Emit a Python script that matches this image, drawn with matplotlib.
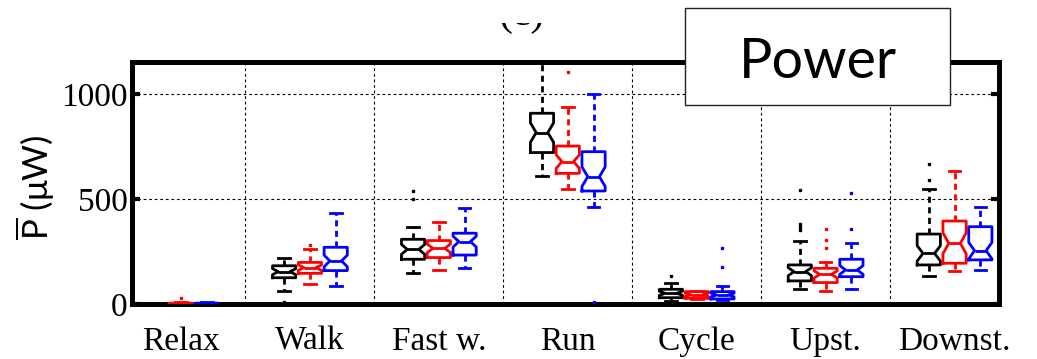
import numpy as np
import matplotlib
matplotlib.use("Agg")
import matplotlib.pyplot as plt
from matplotlib.patches import Rectangle

plt.rcParams['mathtext.fontset'] = 'custom'
plt.rcParams['mathtext.rm'] = 'Lato'

ACTIVITIES = ['Relax', 'Walk', 'Fast w.', 'Run', 'Cycle', 'Upst.', 'Downst.']
COLORS = ['black', 'red', 'blue']
OFFSETS = [-0.2, 0.0, 0.2]
N_SUBJECTS = 40

# (lower whisker, q1, median, q3, upper whisker) per activity, in uW
black_box = [(0, 1, 2, 3, 5),
             (62, 125, 154, 182, 220),
             (149, 213, 260, 308, 368),
             (610, 721, 816, 908, 1250),
             (14, 30, 51, 70, 98),
             (70, 110, 154, 186, 302),
             (133, 186, 241, 333, 546)]
black_out = [[], [8], [500, 540], [], [133], [352, 366, 380, 543], [590, 667]]

red_box = [(0, 0, 2, 4, 8),
           (94, 146, 173, 198, 262),
           (162, 221, 265, 302, 392),
           (546, 622, 678, 752, 936),
           (22, 27, 44, 59, 62),
           (63, 102, 141, 170, 202),
           (157, 194, 289, 395, 635)]
red_out = [[30], [281], [], [1106], [], [265, 305, 356], []]

blue_box = [(0, 0, 2, 4, 8),
            (86, 159, 205, 270, 435),
            (173, 233, 297, 337, 456),
            (463, 538, 606, 725, 998),
            (18, 24, 43, 59, 86),
            (71, 130, 162, 213, 289),
            (162, 210, 254, 368, 460)]
blue_out = [[], [], [], [8], [175, 265], [356, 527], []]


def make_stats(boxes, outliers):
    stats = []
    for (lo, q1, med, q3, hi), fl in zip(boxes, outliers):
        half = 1.57 * (q3 - q1) / np.sqrt(N_SUBJECTS)
        stats.append(dict(whislo=lo, q1=q1, med=med, q3=q3, whishi=hi,
                          cilo=med - half, cihi=med + half, fliers=fl))
    return stats


fig = plt.figure(figsize=(10.37, 3.59), dpi=100)
ax = fig.add_axes([0.1273, 0.1532, 0.8361, 0.6741])

groups = np.arange(1, len(ACTIVITIES) + 1)
for boxes, outs, c, off in zip([black_box, red_box, blue_box],
                               [black_out, red_out, blue_out], COLORS, OFFSETS):
    ax.bxp(make_stats(boxes, outs), positions=groups + off, widths=0.18,
           capwidths=0.09, shownotches=True, manage_ticks=False, zorder=3,
           boxprops=dict(color=c, linewidth=2),
           whiskerprops=dict(color=c, linewidth=2, linestyle=(0, (2.2, 1.6))),
           capprops=dict(color=c, linewidth=2),
           medianprops=dict(color=c, linewidth=2),
           flierprops=dict(marker='s', markersize=2, markerfacecolor=c,
                           markeredgecolor=c, linestyle='none'))

ax.set_xlim(0.62, 7.345)
ax.set_ylim(0, 1152)
ax.set_xticks(groups)
ax.set_xticklabels(ACTIVITIES, family='Liberation Serif', fontsize=24)
ax.set_xticks(groups[:-1] + 0.5, minor=True)
ax.set_yticks([0, 500, 1000])
ax.set_yticklabels(['0', '500', '1000'], family='Liberation Serif', fontsize=24)
ax.tick_params(axis='x', which='both', length=0, pad=16)
ax.tick_params(axis='y', direction='in', length=6, width=3, right=True, pad=3)
ax.set_axisbelow(True)
ax.grid(which='minor', axis='x', color='black', linewidth=0.8, linestyle=(0, (2.5, 2.5)))
ax.grid(which='major', axis='y', color='black', linewidth=0.8, linestyle=(0, (2.5, 2.5)))
for s in ax.spines.values():
    s.set_linewidth(3.6)

fig.text(35 / 1037, 1 - 187 / 359, r'$\overline{\mathrm{P}}$ (μW)', rotation=90,
         ha='center', va='center', family='Lato', fontsize=25)

# panel tag, mostly cut off in the source figure
fig.text(521 / 1037, 1 - 25 / 359, '(c)', ha='center', va='baseline',
         family='Liberation Serif', fontsize=30)
fig.patches.append(Rectangle((480 / 1037, 1 - 23 / 359), 80 / 1037, 23 / 359,
                             transform=fig.transFigure, facecolor='white',
                             edgecolor='none', zorder=5))

fig.patches.append(Rectangle((685 / 1037, 1 - 105 / 359), 265 / 1037, 97 / 359,
                             transform=fig.transFigure, facecolor='white',
                             edgecolor='#222222', linewidth=1, zorder=5))
fig.text(817.5 / 1037, 1 - 78 / 359, 'Power', ha='center', va='baseline',
         family='Lato', fontsize=40, zorder=6)

fig.savefig('out.png', dpi=100)
